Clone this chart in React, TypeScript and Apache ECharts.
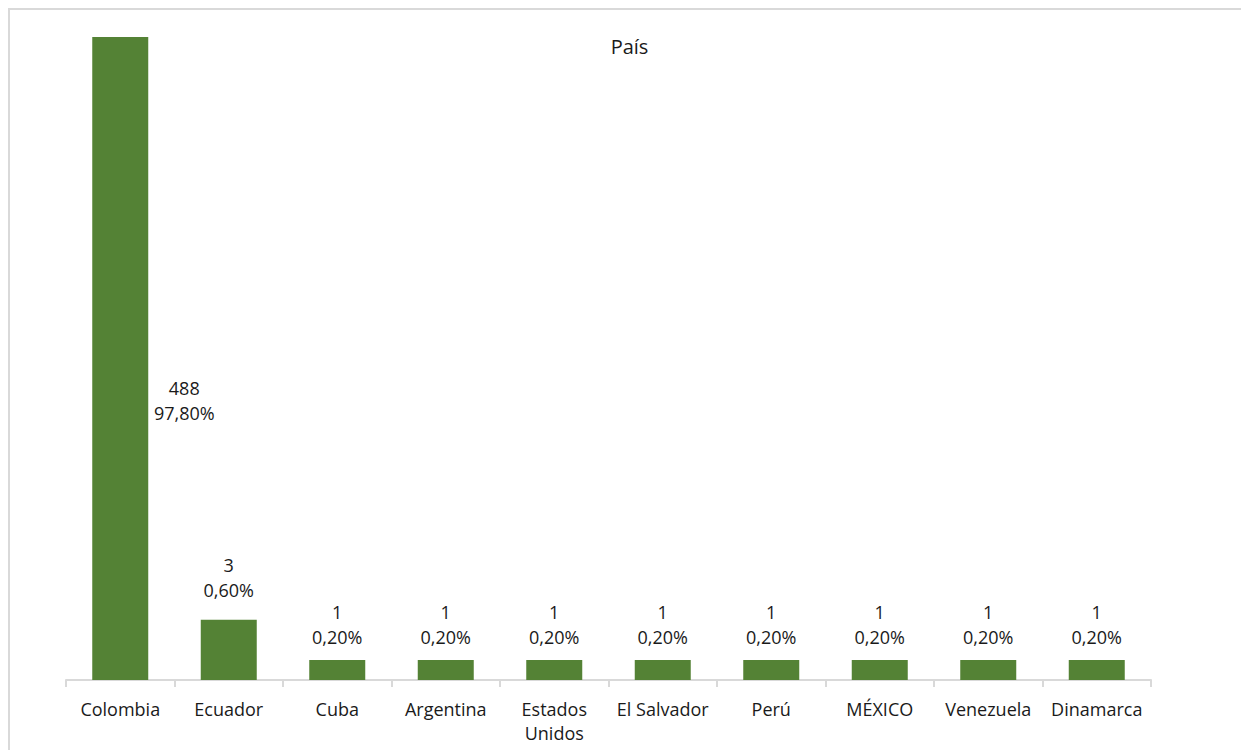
import React, { useEffect, useRef } from "react";
import * as echarts from "echarts";

const categories = ["Colombia", "Ecuador", "Cuba", "Argentina", "Estados Unidos", "El Salvador", "Perú", "MÉXICO", "Venezuela", "Dinamarca"];
const counts = [488, 3, 1, 1, 1, 1, 1, 1, 1, 1];
const percents = [97.8, 0.6, 0.2, 0.2, 0.2, 0.2, 0.2, 0.2, 0.2, 0.2];
const titleText = "País";

const FONT = "'Open Sans', 'Noto Sans', sans-serif";
const TEXT = "#1a1a1a";

export default function App() {
  const ref = useRef<HTMLDivElement>(null);
  useEffect(() => {
    document.documentElement.style.overflow = "hidden";
    const chart = echarts.init(ref.current!, null, { renderer: "svg" });
    const fmtPct = (p: number) => p.toFixed(2).replace(".", ",") + "%";
    chart.setOption({
      animation: false,
      title: {
        text: titleText,
        left: "center",
        top: 21,
        textStyle: { fontFamily: FONT, fontSize: 20, fontWeight: "normal", color: TEXT },
      },
      grid: { left: 56, right: 98, top: 27, bottom: 70 },
      xAxis: {
        type: "category",
        data: categories,
        axisLine: { lineStyle: { color: "#d9d9d9", width: 2 } },
        axisTick: { show: true, interval: 0, length: 7, lineStyle: { color: "#d9d9d9", width: 2 } },
        axisLabel: {
          interval: 0,
          fontFamily: FONT,
          fontSize: 18,
          color: TEXT,
          margin: 17,
          lineHeight: 24,
          formatter: (v: string) => v.replace("Estados Unidos", "Estados\nUnidos"),
        },
      },
      yAxis: { type: "value", min: 0, max: 32, show: false, splitLine: { show: false } },
      series: [
        {
          type: "bar",
          barWidth: 56,
          clip: true,
          itemStyle: { color: "#548235" },
          data: counts.map((c, i) =>
            i === 0
              ? { value: c, label: { position: "right", align: "center", distance: 3, offset: [33, 42] } }
              : i === 1
              ? { value: c, label: { distance: 17 } }
              : { value: c }
          ),
          label: {
            show: true,
            position: "top",
            distance: 10,
            fontFamily: FONT,
            fontSize: 18,
            lineHeight: 25,
            color: TEXT,
            align: "center",
            formatter: (p: any) => `${counts[p.dataIndex]}\n${fmtPct(percents[p.dataIndex])}`,
          },
        },
      ],
    });
    return () => chart.dispose();
  }, []);
  return (
    <div
      style={{
        width: 1241,
        height: 742,
        borderTop: "2px solid #d9d9d9",
        borderLeft: "2px solid #d9d9d9",
        boxSizing: "border-box",
      }}
    >
      <div ref={ref} style={{ width: 1239, height: 740 }} />
    </div>
  );
}
